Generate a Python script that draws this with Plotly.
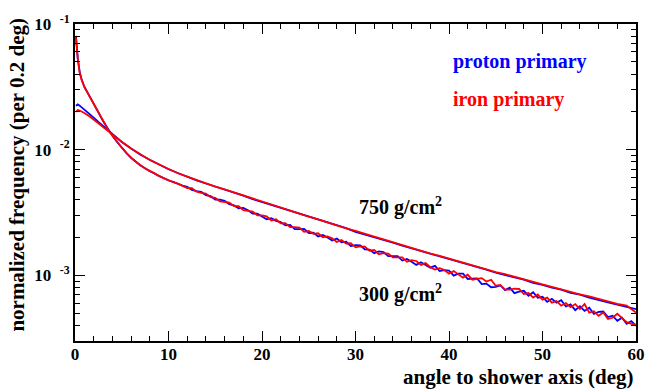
import math
import plotly.graph_objects as go

# angle grids (deg, bin centres)
x_300 = [0.1, 0.3, 0.5, 0.7] + [1.0 + 0.5 * i for i in range(119)]
x_750 = [0.1, 0.3, 0.5, 0.7, 1.0, 1.5, 2.0, 2.5, 3.0, 3.5, 4.0] + list(range(5, 61))

# normalized frequency in units of 1e-3
proton_300 = [80.5, 53.0, 41.6, 36.5,
    31.7, 27.3, 23.3, 19.8, 16.9, 14.6, 12.9, 11.5, 10.3, 9.38, 8.62, 7.98, 7.48, 7.12, 6.73, 6.47,
    6.15, 5.95, 5.68, 5.54, 5.32, 5.18,
    5.05, 4.78, 4.68, 4.61, 4.34, 4.27, 4.01, 4.00, 3.92, 3.68, 3.60, 3.41, 3.44, 3.30, 3.10, 3.09,
    2.94, 2.79, 2.85, 2.71, 2.65, 2.50, 2.52, 2.33, 2.33, 2.34, 2.17, 2.18, 2.04, 2.09, 2.00, 1.89,
    1.96, 1.83, 1.85, 1.71, 1.74, 1.73, 1.61, 1.60, 1.50, 1.55, 1.53, 1.42, 1.42, 1.42, 1.31, 1.35,
    1.28, 1.21, 1.27, 1.20, 1.15, 1.19, 1.08, 1.10, 1.09, 0.994, 1.03, 1.03, 0.935, 0.941, 0.946, 0.851,
    0.858, 0.803, 0.809, 0.830, 0.762, 0.799, 0.721, 0.741, 0.753, 0.687, 0.734, 0.662, 0.674, 0.614,
    0.650, 0.605, 0.633, 0.565, 0.587, 0.528, 0.567, 0.521, 0.551, 0.492, 0.511, 0.515, 0.465, 0.477,
    0.434, 0.460, 0.411, 0.431, 0.396]

iron_300 = [77.5, 52.0, 41.0, 36.1,
    31.5, 27.1, 23.1, 19.7, 16.8, 14.6, 12.9, 11.5, 10.4, 9.42, 8.60, 8.02, 7.52, 7.08, 6.78, 6.45,
    6.19, 5.91, 5.73, 5.50, 5.37, 5.14,
    4.95, 4.93, 4.63, 4.52, 4.47, 4.19, 4.13, 3.88, 3.84, 3.79, 3.56, 3.55, 3.30, 3.27, 3.22, 3.00,
    3.00, 2.94, 2.73, 2.79, 2.59, 2.60, 2.42, 2.42, 2.40, 2.22, 2.25, 2.14, 2.16, 2.01, 2.04, 1.97,
    1.84, 1.91, 1.79, 1.80, 1.67, 1.70, 1.69, 1.57, 1.59, 1.47, 1.50, 1.49, 1.39, 1.39, 1.39, 1.28,
    1.32, 1.30, 1.21, 1.25, 1.16, 1.11, 1.14, 1.10, 1.03, 1.08, 1.01, 0.958, 1.01, 0.922, 0.936, 0.950,
    0.893, 0.922, 0.826, 0.838, 0.770, 0.768, 0.782, 0.778, 0.710, 0.722, 0.664, 0.703, 0.641, 0.665,
    0.606, 0.623, 0.573, 0.601, 0.558, 0.590, 0.539, 0.591, 0.504, 0.518, 0.476, 0.505, 0.450, 0.459,
    0.494, 0.456, 0.424, 0.410, 0.404]

proton_750 = [22.4, 22.9, 22.4, 21.8, 20.9, 19.4, 18.0, 16.6, 15.4, 14.3, 13.2,
    11.5, 10.2, 9.12, 8.30, 7.57, 6.98, 6.52, 6.06, 5.70, 5.38, 5.10, 4.78, 4.54, 4.31, 4.04, 3.83,
    3.64, 3.42, 3.25, 3.08, 2.90, 2.77, 2.61, 2.48, 2.37, 2.22, 2.12, 2.01, 1.91, 1.82, 1.72, 1.64,
    1.56, 1.48, 1.42, 1.34, 1.28, 1.22, 1.16, 1.11, 1.05, 1.01, 0.958, 0.922, 0.872, 0.840, 0.796,
    0.768, 0.726, 0.702, 0.664, 0.640, 0.610, 0.583, 0.560, 0.538]

iron_750 = [19.95, 20.65, 20.5, 20.2, 19.6, 18.5, 17.4, 16.2, 15.1, 14.1, 13.2,
    11.55, 10.22, 9.16, 8.27, 7.61, 7.02, 6.49, 6.10, 5.73, 5.41, 5.08, 4.83, 4.57, 4.29, 4.08, 3.86,
    3.62, 3.46, 3.27, 3.10, 2.93, 2.79, 2.63, 2.50, 2.36, 2.26, 2.13, 2.03, 1.93, 1.83, 1.74, 1.65,
    1.58, 1.49, 1.43, 1.36, 1.29, 1.23, 1.17, 1.12, 1.06, 1.02, 0.970, 0.928, 0.885, 0.845, 0.810,
    0.770, 0.742, 0.705, 0.680, 0.648, 0.625, 0.592, 0.575, 0.505]

y_ticks = [1e-3, 1e-2, 1e-1]
y_ticktext = ["10&nbsp;&nbsp;<sup>-3</sup>", "10&nbsp;&nbsp;<sup>-2</sup>", "10&nbsp;&nbsp;<sup>-1</sup>"]
y_minor = [m * d for d in (1e-4, 1e-3, 1e-2) for m in range(2, 10) if m * d >= 3e-4]

FONT = "Liberation Serif"
BLUE = "#0000ff"
RED = "#ff0000"

fig = go.Figure()
series = [
    (x_300, proton_300, BLUE),
    (x_750, proton_750, BLUE),
    (x_300, iron_300, RED),
    (x_750, iron_750, RED),
]
for xs, vals, col in series:
    fig.add_trace(go.Scatter(
        x=xs, y=[v * 1e-3 for v in vals], mode="lines",
        line=dict(color=col, width=1.8), showlegend=False, hoverinfo="skip"))

fig.update_layout(
    width=667, height=392,
    margin=dict(l=75, r=31, t=17, b=51),
    paper_bgcolor="white", plot_bgcolor="white",
    font=dict(family=FONT, color="black"),
)
fig.update_xaxes(
    range=[0, 60], showgrid=False, zeroline=False,
    showline=True, linecolor="black", linewidth=2, mirror="allticks",
    ticks="inside", ticklen=10, tickwidth=1, tickcolor="black",
    tick0=0, dtick=10, ticklabelstandoff=-3,
    tickfont=dict(family=FONT, size=17, weight="bold"),
    minor=dict(dtick=2, ticks="inside", ticklen=5, tickwidth=1, tickcolor="black", showgrid=False),
)
fig.update_yaxes(
    type="log", range=[math.log10(3e-4), -1], showgrid=False, zeroline=False,
    showline=True, linecolor="black", linewidth=2, mirror="allticks",
    ticks="inside", ticklen=10, tickwidth=1, tickcolor="black",
    tickmode="array", tickvals=y_ticks, ticktext=y_ticktext,
    tickfont=dict(family=FONT, size=17, weight="bold"),
    minor=dict(tickmode="array", tickvals=y_minor, ticks="inside", ticklen=5,
               tickwidth=1, tickcolor="black", showgrid=False),
)

def label(text, x, y, color="black", size=20, **kw):
    fig.add_annotation(text=text, x=x, y=y, xref="paper", yref="paper", showarrow=False,
                       font=dict(family=FONT, size=size, color=color, weight="bold"), **kw)

label("proton primary", 0.670, 0.881, BLUE, xanchor="left", yanchor="middle")
label("iron primary", 0.670, 0.761, RED, xanchor="left", yanchor="middle")
label("750 g/cm<sup>2</sup>", 0.502, 0.425, xanchor="left", yanchor="middle")
label("300 g/cm<sup>2</sup>", 0.502, 0.150, xanchor="left", yanchor="middle")
label("angle to shower axis (deg)", 1.0, -0.112, size=21, xanchor="right", yanchor="middle")
label("normalized frequency (per 0.2 deg)", -0.1025, 1.028, size=21, textangle=-90,
      xanchor="center", yanchor="top")

fig.write_html("out.html")
